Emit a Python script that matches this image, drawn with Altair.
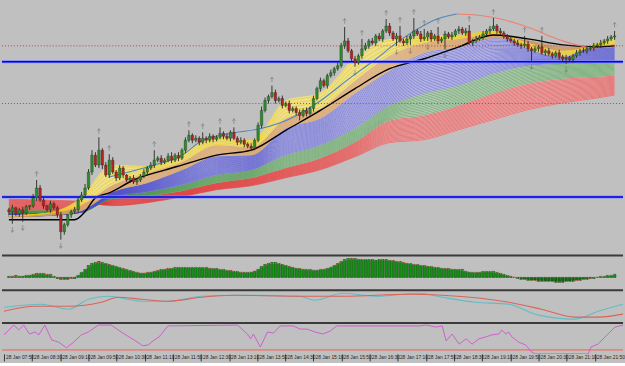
import altair as alt
import pandas as pd
import numpy as np

# ---------------- data (price units: points above an arbitrary base) ----------------
TIME_LABELS = ["28 Jan 07:50", "28 Jan 08:30", "28 Jan 09:10", "28 Jan 09:50", "28 Jan 10:30",
               "28 Jan 11:10", "28 Jan 11:50", "28 Jan 12:30", "28 Jan 13:10", "28 Jan 13:50",
               "28 Jan 14:30", "28 Jan 15:10", "28 Jan 15:50", "28 Jan 16:30", "28 Jan 17:10",
               "28 Jan 17:50", "28 Jan 18:30", "28 Jan 19:10", "28 Jan 19:50", "28 Jan 20:30",
               "28 Jan 21:10", "28 Jan 21:50"]
TICK_STEP = 8  # bars (5-minute candles) between time labels

FIRST_OPEN = 50
CLOSE = [
    48, 52, 46, 50, 47, 53,
    54, 62, 72, 60,
    54, 50, 56, 52,
    45, 28, 35,
    45, 48, 50,
    60, 65, 72, 88,
    105, 95, 110, 95,
    85, 100, 88, 82,
    92, 85, 80, 82,
    78, 80, 84, 88,
    92, 95, 100, 102,
    98, 100, 104, 100,
    105, 102, 110, 120,
    125, 120, 122, 118,
    122, 120, 124, 121,
    123, 127, 124, 122,
    128, 122, 118, 120,
    116, 114, 112, 120,
    135, 150, 160, 164,
    168, 160, 162, 155,
    157, 150, 152, 148,
    145, 150, 147, 152,
    162, 172, 180, 175,
    185, 188, 192, 195,
    215, 220, 210, 202,
    198, 205, 212, 215,
    220, 218, 225, 222,
    230, 235, 228, 222,
    225, 220, 218, 222,
    225, 230, 227, 222,
    224, 228, 222, 225,
    220, 222, 227, 224,
    226, 230, 232, 228,
    230, 218, 220, 222,
    224, 227, 230, 232,
    235, 230, 228, 225,
    222, 220, 218, 216,
    215, 217, 212, 210,
    212, 214, 208, 210,
    207, 205, 208, 204,
    202, 203, 201, 205,
    208, 210, 210, 212,
    213, 215, 216, 218,
    220, 222, 224, 225,
]
UPPER_WICK = [
    2, 3, 1, 2, 3, 2, 1, 4,
    8, 3, 2, 1, 3, 2, 2, 3,
    2, 1, 2, 3, 2, 3, 4, 3,
    5, 3, 13, 2, 3, 6, 3, 2,
    3, 2, 1, 2, 3, 2, 2, 3,
    2, 3, 10, 2, 3, 2, 3, 4,
    2, 3, 2, 3, 5, 2, 3, 2,
    6, 2, 3, 2, 2, 6, 2, 3,
    2, 5, 2, 3, 2, 2, 3, 2,
    3, 4, 3, 2, 7, 3, 2, 3,
    2, 3, 2, 2, 3, 2, 3, 2,
    3, 2, 3, 2, 2, 3, 2, 3,
    3, 14, 3, 2, 3, 2, 10, 3,
    2, 3, 2, 3, 2, 7, 3, 2,
    3, 10, 2, 3, 2, 13, 2, 3,
    8, 2, 3, 2, 9, 2, 3, 2,
    3, 2, 3, 2, 3, 6, 2, 3,
    2, 3, 2, 3, 8, 2, 3, 2,
    2, 3, 2, 3, 2, 8, 3, 2,
    3, 2, 11, 2, 3, 2, 2, 3,
    2, 3, 2, 2, 3, 2, 3, 2,
    2, 3, 2, 3, 2, 3, 2, 5,
]
LOWER_WICK = [
    3, 12, 2, 3, 9, 2, 3, 2,
    3, 2, 3, 2, 3, 2, 3, 8,
    3, 2, 3, 2, 3, 2, 3, 2,
    3, 2, 3, 4, 2, 3, 2, 3,
    2, 3, 2, 3, 2, 3, 2, 2,
    3, 2, 3, 2, 3, 2, 2, 3,
    2, 3, 2, 3, 2, 3, 2, 3,
    2, 3, 2, 3, 2, 2, 3, 2,
    3, 2, 3, 2, 3, 2, 3, 2,
    2, 3, 2, 3, 2, 3, 2, 3,
    2, 3, 2, 3, 5, 2, 3, 2,
    3, 2, 3, 2, 3, 2, 3, 2,
    2, 3, 2, 3, 4, 2, 3, 2,
    3, 2, 3, 2, 3, 2, 3, 2,
    7, 2, 3, 2, 6, 3, 2, 3,
    2, 4, 3, 2, 3, 2, 10, 2,
    3, 2, 3, 2, 3, 2, 3, 2,
    2, 3, 2, 3, 2, 3, 2, 3,
    3, 2, 3, 2, 3, 2, 3, 10,
    2, 3, 2, 3, 2, 3, 2, 3,
    3, 5, 2, 3, 2, 3, 2, 3,
    2, 3, 2, 3, 2, 3, 2, 3,
]
UP_FRACTALS = [8, 26, 29, 42, 52, 56, 61, 65, 76, 97, 102, 109, 113, 117, 120, 124, 133, 140, 149, 154, 175]
DOWN_FRACTALS = [1, 4, 15, 100, 112, 116, 121, 126, 151, 161]

# moving-average ribbon: band edges read at sample bars
RIBBON_BARS = [0, 10, 20, 30, 40, 50, 60, 70, 80, 90, 100, 110, 120, 130, 140, 150, 160, 170, 175]
EDGE_0 = [44, 46, 60, 95, 94, 108, 123, 120, 160, 168, 203, 222, 225, 226, 230, 212, 204, 218, 223]
EDGE_1 = [44, 46, 53, 75, 87, 98, 115, 113, 142, 152, 180, 205, 218, 222, 227, 218, 210, 215, 217]
EDGE_2 = [43, 44, 48, 68, 77, 90, 104, 105, 132, 142, 167, 190, 208, 214, 223, 220, 214, 213, 214]
EDGE_3 = [46, 46, 47, 63, 68, 75, 85, 90, 105, 115, 132, 155, 167, 175, 187, 195, 197, 198, 200]
EDGE_4 = [49, 49, 48, 61, 64, 69, 77, 82, 92, 102, 118, 140, 145, 155, 167, 177, 182, 184, 185]
EDGE_5 = [61, 60, 59, 54, 57, 63, 70, 74, 82, 90, 103, 117, 120, 130, 140, 150, 157, 162, 165]

BLACK_BARS = [0, 10, 19, 22, 25, 29, 36, 45, 50, 60, 70, 80, 90, 100, 110, 120, 130, 140, 150, 160, 170, 175]
BLACK_VALUES = [40, 40, 40, 48, 62, 67, 80, 90, 95, 105, 110, 130, 150, 172, 192, 202, 214, 226, 222, 216, 214, 215]

ARC_BARS = [29, 39, 42, 50, 56, 64.4, 73, 81.4, 89.3, 98.3, 105.4, 111.6, 118.1, 123.7, 129.4,
            135, 140.7, 146.3, 152.8, 157.6, 164.1, 168.9]
ARC_VALUES = [83, 92, 95, 105, 120, 127, 132, 142, 158, 182, 200, 217, 232, 242, 247,
              246, 243, 238, 230, 223, 216, 212]

DOTTED_LEVELS = [215, 157]
BLUE_LEVELS = [199, 63]

# oscillator histogram
HIST = [
    1, 1, 2, 1, 1, 2, 2,
    3, 4, 4, 4, 3, 3,
    1, -1, -2, -2, -2, -1, -1,
    2, 5, 8,
    12, 14, 15, 16,
    15, 14, 13, 12, 11, 10, 9, 8, 7, 6,
    5, 4, 4, 5, 5,
    6, 7, 8, 8, 9, 9, 10, 10, 10, 10, 10, 10, 10, 10,
    10, 10, 9, 9, 9, 8, 8, 7, 7, 6, 6, 5,
    5, 5, 5, 6,
    8, 11, 13, 14, 15, 15,
    14, 13, 12, 11, 10, 9,
    9, 8, 8, 8, 7, 7, 8, 8, 9,
    10, 12, 14, 16, 18,
    19, 19, 19, 18, 18, 18,
    18, 18, 17, 18, 18, 18, 17,
    17, 16, 16, 15, 14, 14, 13, 13, 12, 12, 11, 11,
    10, 10, 9, 9, 9, 8, 8, 8, 8,
    6, 5, 5, 5, 5, 6, 6, 6, 6,
    5, 4, 3, 2, 1,
    0, -1, -2, -2,
    -3, -3, -3, -4, -4, -4, -4, -4, -5, -5, -5, -4, -4, -4,
    -3, -3, -2, -2, -1, -1,
    0, 1, 1, 2, 2, 3,
]

# two-line oscillator
TEAL_BARS = [0, 10.7, 18.4, 24, 29.7, 39, 46.6, 56, 67, 84, 88.4, 96.3, 106, 118, 124.6, 134, 143.5, 152, 162.4, 169, 176]
TEAL_VALUES = [14, 17, 12, 22, 25, 20, 20, 25, 26, 25, 21, 28, 25, 28, 24, 19, 17, 6, 2, 10, 17]
SALMON_BARS = [0, 8.8, 18.4, 27.7, 32.5, 39, 46.6, 56, 65.3, 84.2, 96.3, 115.3, 124.6, 143.5, 152.8, 162.4, 169, 176]
SALMON_VALUES = [10, 15, 15, 19, 24, 22, 20, 24, 26, 25, 25, 27, 26, 19, 12, 4, 4, 7]

# bounded oscillator (0-100)
OSC_BARS = [0, 2.8, 4.2, 5.6, 6.5, 7.3, 8.8, 9.9, 11.6, 13.6, 15.5, 17.8, 19.8, 22.0, 24.0, 26.8,
            30.5, 33.3, 37.0, 39.5, 41.0, 42.7, 44.1, 46.6, 66.4, 69.2, 70.1, 70.9, 72.9, 74.9,
            76.6, 78.5, 82.2, 84.2, 86.2, 88.4, 90.7, 92.7, 94.6, 118.1, 120.1, 122.9, 124.6,
            125.7, 127.4, 129.4, 131.4, 133.1, 135.0, 137.0, 138.7, 140.7, 141.5, 142.7, 143.5,
            144.4, 146.3, 148.3, 150.0, 151.1, 166.1, 166.9, 168.9, 170.9, 173.7, 176.0]
OSC_VALUES = [66, 100, 83, 100, 83, 69, 76, 66, 100, 48, 41, 21, 41, 66, 76, 100,
              100, 76, 48, 28, 31, 48, 59, 97, 100, 69, 52, 69, 24, 76,
              72, 97, 97, 86, 86, 76, 69, 79, 97, 97, 100, 93, 97,
              45, 69, 34, 52, 34, 52, 59, 66, 69, 83, 69, 76,
              59, 41, 31, 7, 0, 0, 24, 34, 59, 93, 100]
OSC_LEVEL = 14

# ---------------- styling ----------------
BG = "#c0c0c0"
W = 625
X_SCALE = alt.Scale(domain=[-0.565, 176.0], nice=False, zero=False)
MAIN_Y = alt.Scale(domain=[5, 260], nice=False, zero=False)
HIST_Y = alt.Scale(domain=[-12, 23], nice=False, zero=False)
LINE_Y = alt.Scale(domain=[-1, 32], nice=False, zero=False)
OSC_Y = alt.Scale(domain=[0, 110.3], nice=False, zero=False)

BANDS = [  # name, lower edge index, fill, stripe colour, stripes ; drawn slow -> fast
    ("red", 4, "#f2c6c6", "#e03c3c", 20),
    ("green", 3, "#cadbca", "#469446", 13),
    ("blue", 2, "#d2d2f0", "#5252cc", 26),
    ("tan", 1, "#efcda4", "#d39a5c", 11),
    ("yellow", 0, "#f6e588", "#e8c800", 5),
]
EDGES = [EDGE_0, EDGE_1, EDGE_2, EDGE_3, EDGE_4, EDGE_5]


def X(field="bar", axis=None):
    return alt.X(f"{field}:Q", scale=X_SCALE, axis=axis, title=None)


# ---------------- main price panel ----------------
layers = []
for name, k, fill, stripe, n in BANDS:
    bdf = pd.DataFrame({"bar": RIBBON_BARS, "lo": EDGES[k], "hi": EDGES[k + 1]})
    layers.append(alt.Chart(bdf).mark_area(color=fill, opacity=0.85, interpolate="monotone", clip=True).encode(
        x=X(), y=alt.Y("lo:Q", scale=MAIN_Y, axis=None, stack=None), y2="hi:Q"))
    rows = []
    for j in range(n):
        f = (j + 0.5) / n
        for b, lo, hi in zip(RIBBON_BARS, EDGES[k], EDGES[k + 1]):
            rows.append({"bar": b, "v": lo + f * (hi - lo), "lid": f"{name}{j}"})
    sdf = pd.DataFrame(rows)
    layers.append(alt.Chart(sdf).mark_line(color=stripe, strokeWidth=0.55, interpolate="monotone", clip=True).encode(
        x=X(), y=alt.Y("v:Q", scale=MAIN_Y, axis=None), detail="lid:N"))

black_df = pd.DataFrame({"bar": BLACK_BARS, "v": BLACK_VALUES})
layers.append(alt.Chart(black_df).mark_line(color="#000000", strokeWidth=1.4, interpolate="monotone", clip=True).encode(
    x=X(), y=alt.Y("v:Q", scale=MAIN_Y, axis=None)))

peak = int(np.argmax(ARC_VALUES))
arc_up = pd.DataFrame({"bar": ARC_BARS[:peak + 1], "v": ARC_VALUES[:peak + 1]})
arc_dn = pd.DataFrame({"bar": ARC_BARS[peak:], "v": ARC_VALUES[peak:]})
layers.append(alt.Chart(arc_up).mark_line(color="#4f86bf", strokeWidth=1.1, interpolate="monotone", clip=True).encode(
    x=X(), y=alt.Y("v:Q", scale=MAIN_Y, axis=None)))
layers.append(alt.Chart(arc_dn).mark_line(color="#ee7f6e", strokeWidth=1.1, interpolate="monotone", clip=True).encode(
    x=X(), y=alt.Y("v:Q", scale=MAIN_Y, axis=None)))

lv_dot = pd.DataFrame({"v": DOTTED_LEVELS})
layers.append(alt.Chart(lv_dot).mark_rule(color="#a84a4a", strokeWidth=1, strokeDash=[1, 2]).encode(
    y=alt.Y("v:Q", scale=MAIN_Y, axis=None)))
lv_blue = pd.DataFrame({"v": BLUE_LEVELS})
layers.append(alt.Chart(lv_blue).mark_rule(color="#8088ff", strokeWidth=3).encode(
    y=alt.Y("v:Q", scale=MAIN_Y, axis=None)))
layers.append(alt.Chart(lv_blue).mark_rule(color="#0000d8", strokeWidth=1.5).encode(
    y=alt.Y("v:Q", scale=MAIN_Y, axis=None)))

opens = [FIRST_OPEN] + CLOSE[:-1]
cdf = pd.DataFrame({"bar": range(len(CLOSE)), "open": opens, "close": CLOSE,
                    "uw": UPPER_WICK, "lw": LOWER_WICK})
cdf["high"] = np.maximum(cdf["open"], cdf["close"]) + cdf["uw"]
cdf["low"] = np.minimum(cdf["open"], cdf["close"]) - cdf["lw"]
cdf["dir"] = np.where(cdf["close"] >= cdf["open"], "up", "down")

layers.append(alt.Chart(cdf).mark_rule(color="#262626", strokeWidth=0.9, clip=True).encode(
    x=X(), y=alt.Y("low:Q", scale=MAIN_Y, axis=None), y2="high:Q"))
layers.append(alt.Chart(cdf).mark_bar(size=2.6, clip=True, stroke="#1e1e1e", strokeWidth=0.3).encode(
    x=X(), y=alt.Y("open:Q", scale=MAIN_Y, axis=None), y2="close:Q",
    color=alt.Color("dir:N", scale=alt.Scale(domain=["up", "down"], range=["#2c8c2c", "#b02424"]), legend=None)))

up_f = cdf[cdf["bar"].isin(UP_FRACTALS)]
dn_f = cdf[cdf["bar"].isin(DOWN_FRACTALS)]
layers.append(alt.Chart(up_f).mark_point(shape="M-0.6,-0.2L0,-1L0.6,-0.2M0,-1L0,1", filled=False, size=28,
                                         color="#6e6e6e", strokeWidth=0.8, yOffset=-6, clip=True).encode(
    x=X(), y=alt.Y("high:Q", scale=MAIN_Y, axis=None)))
layers.append(alt.Chart(dn_f).mark_point(shape="M-0.6,0.2L0,1L0.6,0.2M0,1L0,-1", filled=False, size=28,
                                         color="#6e6e6e", strokeWidth=0.8, yOffset=6, clip=True).encode(
    x=X(), y=alt.Y("low:Q", scale=MAIN_Y, axis=None)))

main = alt.layer(*layers).properties(width=W, height=255)

sep_df = pd.DataFrame({"a": [0]})


def separator():
    return alt.Chart(sep_df).mark_rule(color="#3a3a3a", strokeWidth=2).encode(
        x=alt.value(0), x2=alt.value(W), y=alt.value(1))


# ---------------- histogram panel ----------------
hdf = pd.DataFrame({"bar": range(len(HIST)), "h": HIST})
hist = alt.layer(
    alt.Chart(hdf).mark_bar(size=2.7, stroke="#0b3d0b", strokeWidth=0.5, clip=True).encode(
        x=X(), y=alt.Y("h:Q", scale=HIST_Y, axis=None), y2=alt.datum(0),
        color=alt.condition("datum.h >= 0", alt.value("#139213"), alt.value("#0f6a0f"))),
    alt.Chart(hdf).transform_window(sig="mean(h)", frame=[-2, 2], sort=[alt.SortField("bar")]).mark_line(
        color="#e2786c", strokeWidth=1, strokeDash=[1, 1.5], clip=True).encode(
        x=X(), y=alt.Y("sig:Q", scale=HIST_Y, axis=None)),
    separator(),
).properties(width=W, height=35)

# ---------------- two-line oscillator panel ----------------
tdf = pd.DataFrame({"bar": TEAL_BARS, "v": TEAL_VALUES})
sdf2 = pd.DataFrame({"bar": SALMON_BARS, "v": SALMON_VALUES})
lines = alt.layer(
    alt.Chart(tdf).mark_line(color="#62bcc4", strokeWidth=1.1, interpolate="monotone", clip=True).encode(
        x=X(), y=alt.Y("v:Q", scale=LINE_Y, axis=None)),
    alt.Chart(sdf2).mark_line(color="#d8645a", strokeWidth=1.1, interpolate="monotone", clip=True).encode(
        x=X(), y=alt.Y("v:Q", scale=LINE_Y, axis=None)),
    separator(),
).properties(width=W, height=33)

# ---------------- bounded oscillator panel with time axis ----------------
label_expr = "[" + ",".join(f"'{t}'" for t in TIME_LABELS) + f"][round(datum.value/{TICK_STEP})]"
time_axis = alt.Axis(values=list(range(0, TICK_STEP * len(TIME_LABELS), TICK_STEP)), labelExpr=label_expr,
                     labelAlign="left", labelBaseline="top", labelPadding=-6, labelOffset=1.5,
                     tickSize=7, tickColor="#333333", tickWidth=1, domain=False, grid=False,
                     labelFontSize=4.9, labelFont="Liberation Sans", labelColor="#1e1e1e",
                     labelOverlap=False, labelBound=False, labelFlush=False, title=None)
odf = pd.DataFrame({"bar": OSC_BARS, "v": OSC_VALUES})
ldf = pd.DataFrame({"v": [OSC_LEVEL]})
osc = alt.layer(
    alt.Chart(ldf).mark_rule(color="#e0877e", strokeWidth=1.6).encode(
        y=alt.Y("v:Q", scale=OSC_Y, axis=None)),
    alt.Chart(odf).mark_line(color="#cf5fcf", strokeWidth=1, clip=True).encode(
        x=X(axis=time_axis), y=alt.Y("v:Q", scale=OSC_Y, axis=None)),
    separator(),
).properties(width=W, height=32)

chart = alt.vconcat(main, hist, lines, osc, spacing=0, bounds="flush").resolve_scale(
    x="independent", y="independent", color="independent"
).properties(padding=0, background=BG).configure_view(strokeWidth=0)

chart.save("out.html", embed_options={"renderer": "svg", "actions": False})
